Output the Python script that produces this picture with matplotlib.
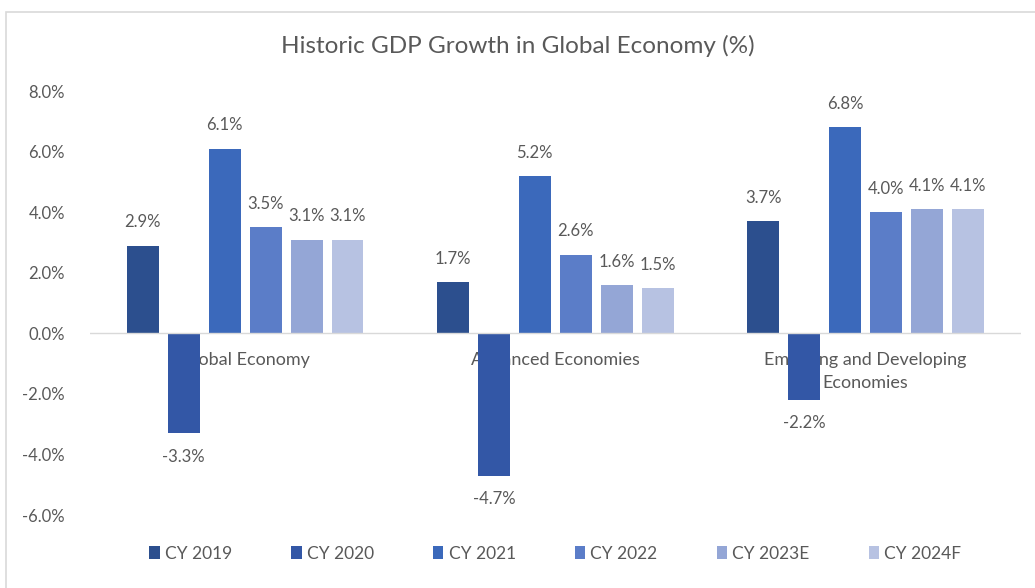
import matplotlib.pyplot as plt
import numpy as np
from matplotlib.patches import Rectangle

categories = ["Global Economy", "Advanced Economies", "Emerging and Developing\nEconomies"]
series = ["CY 2019", "CY 2020", "CY 2021", "CY 2022", "CY 2023E", "CY 2024F"]
values = {
    "CY 2019": [2.9, 1.7, 3.7],
    "CY 2020": [-3.3, -4.7, -2.2],
    "CY 2021": [6.1, 5.2, 6.8],
    "CY 2022": [3.5, 2.6, 4.0],
    "CY 2023E": [3.1, 1.6, 4.1],
    "CY 2024F": [3.1, 1.5, 4.1],
}
colors = ["#2c4f8e", "#3357a6", "#3b69bb", "#5b7dc8", "#94a6d6", "#b7c2e2"]

plt.rcParams["font.family"] = ["Lato", "DejaVu Sans"]
text_color = "#595959"

fig = plt.figure(figsize=(10.35, 5.88), dpi=100)
ax = fig.add_axes([0.087, 0.124, 0.899, 0.721])

# light frame around the chart
fig.patches.append(Rectangle((0.006, -0.01), 1.0, 0.99, transform=fig.transFigure,
                             fill=False, edgecolor="#d9d9d9", linewidth=1.2))

x = np.arange(len(categories))
step = 0.132
width = 0.103

# category labels sit just below zero, behind the bars
for xi, cat in zip(x, categories):
    ax.text(xi, -0.6, cat, ha="center", va="top", fontsize=13,
            color=text_color, zorder=1, linespacing=1.6)

for i, (name, col) in enumerate(zip(series, colors)):
    pos = x + (i - 2.5) * step
    vals = values[name]
    bars = ax.bar(pos, vals, width=width, color=col, label=name, zorder=2)
    for b, v in zip(bars, vals):
        if v >= 0:
            ax.annotate(f"{v:.1f}%", (b.get_x() + b.get_width() / 2, v),
                        xytext=(0, 11), textcoords="offset points",
                        ha="center", va="bottom", fontsize=12, color=text_color)
        else:
            ax.annotate(f"{v:.1f}%", (b.get_x() + b.get_width() / 2, v),
                        xytext=(0, -11), textcoords="offset points",
                        ha="center", va="top", fontsize=12, color=text_color)

ax.axhline(0, color="#d9d9d9", linewidth=1, zorder=3)
ax.set_xlim(-0.5, 2.5)
ax.set_ylim(-6, 8)
ax.set_yticks(np.arange(-6, 9, 2))
ax.set_yticklabels([f"{t:.1f}%" for t in np.arange(-6, 9, 2)])
ax.set_xticks([])
ax.tick_params(axis="y", length=0, pad=18, labelsize=12, labelcolor=text_color)
for s in ax.spines.values():
    s.set_visible(False)

fig.suptitle("Historic GDP Growth in Global Economy (%)", y=0.94,
             fontsize=17.5, color=text_color)

ax.legend(loc="upper center", bbox_to_anchor=(0.5, -0.035), ncol=6, frameon=False,
          fontsize=12.5, handlelength=0.6, handleheight=0.8, handletextpad=0.3,
          columnspacing=3.4, labelcolor=text_color)

fig.savefig("out.png", dpi=100)
